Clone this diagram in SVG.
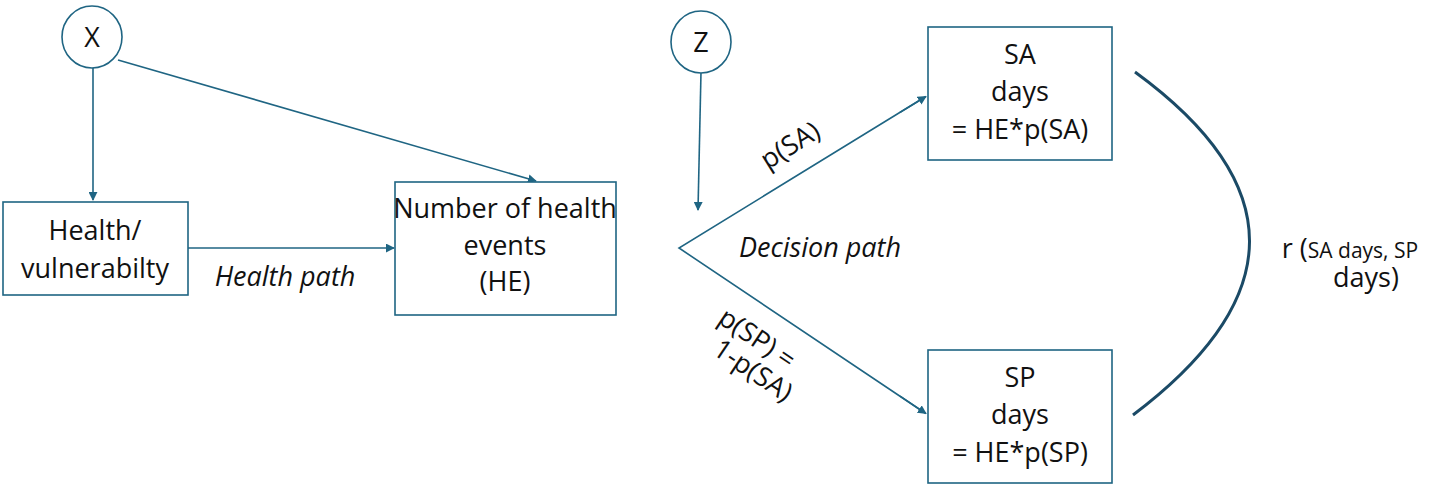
<svg xmlns="http://www.w3.org/2000/svg" width="1441" height="487" viewBox="0 0 1441 487">
<defs>
<style>
.b{fill:#fff;stroke:#1f6583;stroke-width:1.6}
.t{font-family:"Open Sans","Liberation Sans",sans-serif;font-size:27px;fill:#111;text-anchor:middle}
.i{font-style:italic}
.c line{stroke:#1f6583;stroke-width:1.6;marker-end:url(#a)}
</style>
<marker id="a" viewBox="0 0 10 10" refX="9" refY="5" markerWidth="9" markerHeight="9" orient="auto" markerUnits="userSpaceOnUse"><path d="M0,0L10,5L0,10z" fill="#1f6583"/></marker>
</defs>
<rect width="1441" height="487" fill="#fff"/>
<g class="c" id="connectors">
<line x1="93" y1="68" x2="93" y2="200"/>
<line x1="118" y1="60" x2="536" y2="181"/>
<line x1="188" y1="248" x2="394" y2="248"/>
<line x1="701" y1="72" x2="698" y2="210"/>
<path d="M925,97L679,248L925,413" fill="none" stroke="#1f6583" stroke-width="1.6"/>
<line x1="900" y1="112.4" x2="926" y2="96.5"/>
<line x1="900" y1="396.2" x2="926" y2="413.6"/>
<path d="M1135,72Q1365,240 1133,415" fill="none" stroke="#1b4a66" stroke-width="3"/>
</g>
<g id="X"><ellipse cx="92" cy="37" rx="30" ry="31" class="b"/><text class="t" x="92" y="47">X</text></g>
<g id="Z"><ellipse cx="701" cy="42" rx="30" ry="31" class="b"/><text class="t" x="701" y="52">Z</text></g>
<g id="health"><rect x="3" y="202" width="185" height="93" class="b"/><text class="t" x="95" y="240">Health/</text><text class="t" x="95" y="278">vulnerabilty</text></g>
<g id="he"><rect x="395" y="182" width="221" height="133" class="b"/><text class="t" x="505" y="218" font-size="25">Number of health</text><text class="t" x="505" y="255">events</text><text class="t" x="505" y="291">(HE)</text></g>
<g id="sa"><rect x="928" y="27" width="184" height="133" class="b"/><text class="t" x="1020" y="64">SA</text><text class="t" x="1020" y="101">days</text><text class="t" x="1020" y="139">= HE*p(SA)</text></g>
<g id="sp"><rect x="928" y="350" width="184" height="133" class="b"/><text class="t" x="1020" y="387">SP</text><text class="t" x="1020" y="424">days</text><text class="t" x="1020" y="462">= HE*p(SP)</text></g>
<text class="t i" x="285" y="286">Health path</text>
<text class="t i" x="820" y="257">Decision path</text>
<text class="t" transform="translate(795,153) rotate(-32)">p(SA)</text>
<text class="t" transform="translate(752,346) rotate(34)">p(SP) =</text>
<text class="t" transform="translate(748,378) rotate(34)">1-p(SA)</text>
<text class="t" x="1350" y="258"><tspan>r (</tspan><tspan font-size="21">SA days, SP</tspan></text>
<text class="t" x="1366" y="287" font-size="21">days)</text>
</svg>
